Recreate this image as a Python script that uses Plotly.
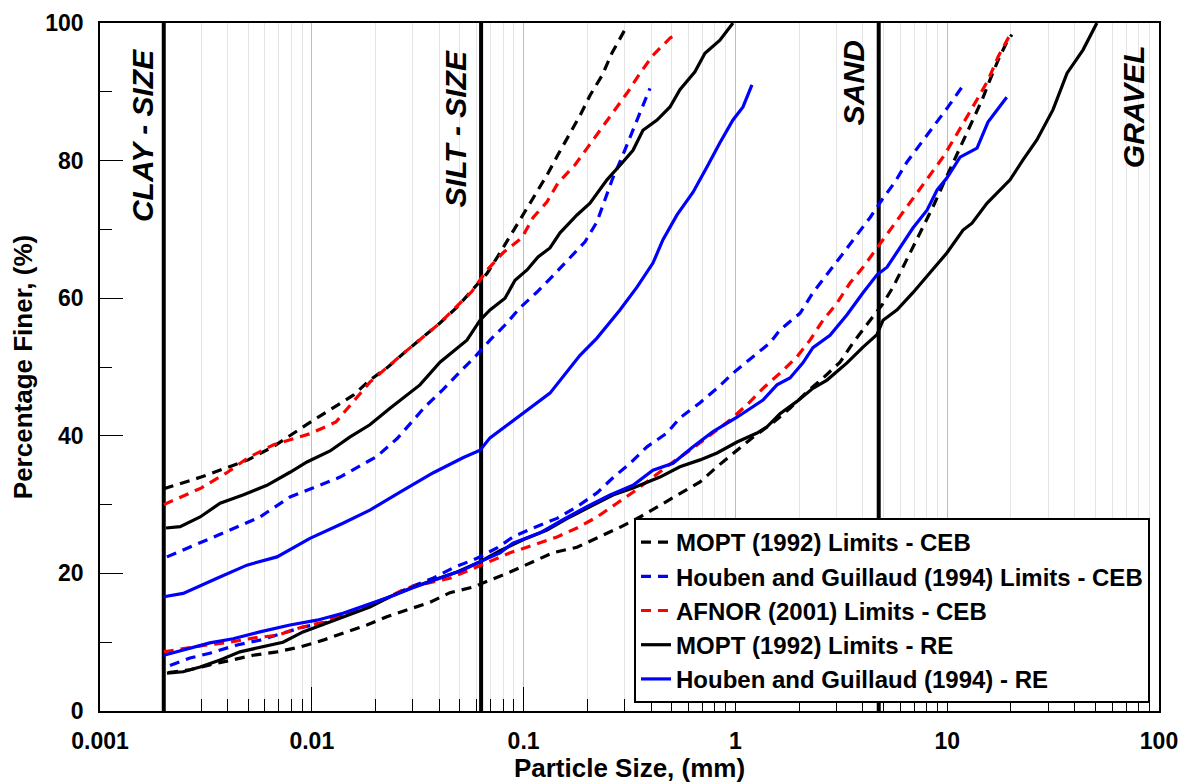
import math
import plotly.graph_objects as go

# ---------------- data ----------------
# MOPT (1992) Limits - CEB  (black dashed)
mopt_ceb_up_x = [0.002, 0.003, 0.005, 0.00656, 0.0101, 0.0126, 0.0157, 0.0188, 0.0229, 0.0276, 0.0335, 0.0403,
                 0.0485, 0.0571, 0.0672, 0.0774, 0.0881, 0.0994, 0.1132, 0.129, 0.145, 0.162, 0.185, 0.206,
                 0.235, 0.261, 0.294, 0.308]
mopt_ceb_up_y = [32.3, 34.0, 36.5, 38.4, 42.2, 44.0, 45.9, 48.1, 50.0, 52.2, 54.4, 56.4,
                 58.7, 61.2, 63.6, 66.6, 69.5, 72.1, 75.0, 77.9, 80.8, 83.4, 86.6, 89.5,
                 92.4, 95.6, 98.5, 99.6]
mopt_ceb_lo_x = [0.0021, 0.00266, 0.0033, 0.00411, 0.00528, 0.00685, 0.0088, 0.0113, 0.01403, 0.0182, 0.0226,
                 0.0282, 0.0361, 0.0449, 0.0577, 0.0717, 0.0863, 0.1108, 0.1376, 0.1787, 0.2295, 0.285,
                 0.3545, 0.4405, 0.547, 0.681, 0.819, 1.018, 1.211, 1.505, 1.81, 2.178, 2.592, 3.12, 3.59,
                 4.23, 4.92, 5.55, 6.18, 6.89, 7.69, 8.57, 9.55, 10.65, 11.88, 13.1, 14.6, 15.9, 17.4,
                 19.1, 20.2]
mopt_ceb_lo_y = [5.6, 6.0, 6.7, 7.3, 8.1, 8.6, 9.3, 10.3, 11.3, 12.5, 13.7,
                 14.7, 15.8, 17.2, 18.0, 19.2, 20.2, 21.7, 23.0, 23.8, 25.3, 26.7,
                 28.2, 29.9, 31.7, 33.3, 35.5, 37.9, 39.8, 41.9, 44.0, 46.4, 48.4, 50.7, 53.5,
                 56.4, 59.0, 61.6, 64.5, 67.4, 70.3, 73.3, 76.5, 79.6, 82.7, 85.6, 88.8, 91.7, 94.6,
                 97.2, 98.3]

# Houben and Guillaud (1994) Limits - CEB  (blue dashed)
hg_ceb_up_x = [0.00207, 0.00297, 0.00411, 0.00569, 0.00789, 0.0101, 0.0136, 0.0203, 0.0253, 0.0342, 0.0416,
               0.0501, 0.059, 0.0694, 0.0817, 0.0962, 0.1157, 0.136, 0.1656, 0.195, 0.222, 0.242, 0.264,
               0.2915, 0.318, 0.3545, 0.3865, 0.395]
hg_ceb_up_y = [22.4, 24.4, 26.3, 28.2, 31.1, 32.4, 34.0, 37.0, 39.6, 44.2, 46.7,
               49.3, 51.5, 53.9, 56.1, 58.6, 60.9, 63.1, 65.8, 68.2, 71.1, 74.3, 77.5,
               80.5, 83.4, 86.9, 90.0, 90.5]
hg_ceb_lo_x = [0.00214, 0.00266, 0.0033, 0.00444, 0.00569, 0.00731, 0.00909, 0.0118, 0.0151, 0.0188, 0.0234,
               0.0291, 0.0373, 0.0464, 0.0603, 0.0749, 0.0891, 0.1108, 0.1438, 0.1787, 0.222, 0.264,
               0.318, 0.3824, 0.475, 0.547, 0.681, 0.819, 0.974, 1.211, 1.456, 1.624, 2.018, 2.323,
               2.707, 3.186, 3.748, 4.32, 4.92, 5.67, 6.46, 7.44, 8.57, 9.98, 11.75, 12.1]
hg_ceb_lo_y = [6.6, 7.7, 8.4, 9.6, 10.3, 11.3, 12.2, 12.9, 14.2, 15.4, 16.6,
               18.0, 19.3, 20.8, 22.2, 23.7, 25.3, 26.6, 28.0, 29.7, 31.7, 33.9,
               36.0, 38.4, 40.4, 42.6, 44.8, 46.9, 49.1, 51.5, 53.5, 55.4, 57.8, 60.8,
               63.4, 66.3, 69.2, 71.7, 74.3, 76.9, 79.8, 82.3, 84.9, 87.6, 90.7, 91.0]

# AFNOR (2001) Limits - CEB  (red dashed)
afnor_up_x = [0.002, 0.003, 0.004, 0.005, 0.0066, 0.0098, 0.013, 0.0188, 0.0276, 0.0403, 0.0571, 0.0672,
              0.080, 0.0983, 0.1107, 0.129, 0.145, 0.175, 0.2015, 0.2345, 0.270, 0.311, 0.3545, 0.408,
              0.491, 0.536]
afnor_up_y = [30.0, 32.4, 34.7, 36.8, 38.7, 40.3, 42.0, 47.8, 52.2, 56.4, 61.0, 64.1,
              66.6, 68.8, 71.7, 74.0, 76.7, 79.4, 82.0, 84.9, 87.4, 90.0, 92.7, 95.3,
              97.8, 98.6]
afnor_lo_x = [0.002, 0.00247, 0.0032, 0.00411, 0.00528, 0.00685, 0.0088, 0.0113, 0.01466, 0.0188, 0.0226,
              0.0282, 0.035, 0.0449, 0.0558, 0.0694, 0.0863, 0.1108, 0.1438, 0.1787, 0.222, 0.276,
              0.3285, 0.408, 0.5075, 0.631, 0.784, 0.943, 1.134, 1.35, 1.624, 1.953, 2.25, 2.592,
              3.018, 3.475, 4.005, 4.66, 5.37, 6.18, 7.2, 8.29, 9.55, 10.89, 12.4, 13.97, 15.6,
              17.4, 19.4, 20.2]
afnor_lo_y = [8.6, 9.1, 9.6, 10.0, 10.6, 11.0, 12.1, 12.9, 14.2, 15.4, 16.4,
              17.9, 18.6, 19.3, 20.5, 21.7, 23.0, 24.1, 25.3, 26.6, 28.2, 30.2,
              31.8, 34.0, 36.2, 38.2, 40.4, 42.3, 44.5, 46.9, 49.1, 51.5, 53.9, 56.8,
              59.3, 62.2, 64.5, 67.3, 69.9, 72.5, 75.3, 77.9, 80.5, 83.4, 86.3, 89.1, 91.7,
              95.1, 97.8, 98.5]

# MOPT (1992) Limits - RE  (black solid)
mopt_re_up_x = [0.00205, 0.00239, 0.00297, 0.00369, 0.00473, 0.00614, 0.00789, 0.00949, 0.0122, 0.0151,
                0.0188, 0.0234, 0.0324, 0.0403, 0.054, 0.0623, 0.0694, 0.0817, 0.0911, 0.1038, 0.117,
                0.1332, 0.1486, 0.1787, 0.2058, 0.2475, 0.2944, 0.3285, 0.366, 0.4265, 0.491, 0.547,
                0.644, 0.718, 0.845, 0.974]
mopt_re_up_y = [26.6, 26.8, 28.2, 30.2, 31.4, 32.8, 34.7, 36.2, 37.8, 39.8,
                41.6, 44.0, 47.4, 50.7, 53.9, 56.8, 58.3, 60.0, 62.6, 64.1, 66.0,
                67.3, 69.5, 72.1, 73.8, 77.2, 79.8, 81.5, 84.4, 85.9, 87.8, 90.3,
                92.9, 95.6, 97.5, 100.0]
mopt_re_lo_x = [0.00207, 0.00247, 0.00297, 0.00369, 0.00458, 0.00588, 0.00731, 0.00909, 0.0118, 0.0151,
                0.0188, 0.0234, 0.03, 0.0373, 0.0485, 0.0623, 0.0774, 0.0994, 0.129, 0.1656, 0.2126,
                0.264, 0.3285, 0.4405, 0.547, 0.681, 0.819, 1.018, 1.265, 1.41, 1.624, 1.953, 2.323,
                2.707, 3.365, 4.005, 4.66, 4.98, 5.8, 6.89, 8.29, 9.98, 11.88, 13.1, 15.4, 19.8, 22.8,
                26.5, 31.6, 36.8, 43.8, 50.9]
mopt_re_lo_y = [5.5, 5.7, 6.4, 7.4, 8.6, 9.3, 10.0, 11.5, 12.8, 14.0,
                15.1, 16.6, 18.0, 19.0, 20.2, 21.7, 23.3, 24.9, 26.3, 28.2, 29.9,
                31.4, 32.4, 34.0, 35.5, 36.5, 37.5, 39.1, 40.4, 41.3, 43.2, 45.0, 46.9,
                48.1, 50.6, 52.9, 54.7, 56.8, 58.3, 60.8, 63.7, 66.6, 69.9, 70.9, 73.8, 77.2, 80.1,
                83.0, 87.4, 92.7, 96.1, 100.0]

# Houben and Guillaud (1994) - RE  (blue solid)
hg_re_up_x = [0.002, 0.00247, 0.00357, 0.00494, 0.00685, 0.0098, 0.01403, 0.0188, 0.0261, 0.0373, 0.0517,
              0.0623, 0.0694, 0.0931, 0.1332, 0.1846, 0.222, 0.285, 0.343, 0.408, 0.455, 0.53, 0.631,
              0.735, 0.845, 0.974, 1.086, 1.197]
hg_re_up_y = [16.6, 17.1, 19.3, 21.2, 22.4, 25.1, 27.3, 29.2, 31.8, 34.6, 36.8,
              37.9, 39.7, 42.6, 46.2, 51.7, 54.2, 58.3, 61.6, 65.1, 68.5, 72.1, 75.4,
              79.1, 82.6, 85.9, 87.8, 91.0]
hg_re_lo_x = [0.002, 0.00247, 0.0033, 0.00425, 0.00569, 0.00789, 0.01058, 0.01403, 0.0182, 0.0234, 0.03,
              0.0403, 0.0517, 0.0643, 0.0774, 0.0891, 0.1195, 0.1535, 0.199, 0.256, 0.3285, 0.408,
              0.5075, 0.631, 0.784, 1.018, 1.35, 1.572, 1.81, 2.084, 2.323, 2.797, 3.365, 4.005,
              4.66, 5.2, 5.98, 6.89, 8.03, 8.95, 9.98, 11.5, 13.83, 15.58, 19.1]
hg_re_lo_y = [8.1, 8.9, 9.9, 10.5, 11.5, 12.5, 13.2, 14.2, 15.4, 16.6, 17.9,
              19.3, 20.5, 21.9, 23.0, 24.4, 25.9, 27.8, 29.7, 31.4, 32.8, 35.0,
              36.0, 38.4, 40.6, 42.7, 45.2, 47.4, 48.4, 50.6, 52.8, 54.6, 57.6, 60.8,
              63.4, 64.5, 67.4, 70.2, 72.8, 75.7, 77.5, 80.5, 81.8, 85.6, 89.2]

# size-class boundaries (mm) and labels
boundaries = [0.002, 0.063, 4.75]
zone_labels = ["CLAY - SIZE", "SILT - SIZE", "SAND", "GRAVEL"]
zone_label_x = [0.0016, 0.0474, 3.59, 75.3]   # mm
zone_label_y = [83.6, 84.7, 91.4, 87.9]       # %

x_tickvals = [0.001, 0.01, 0.1, 1, 10, 100]
x_ticktext = ["0.001", "0.01", "0.1", "1", "10", "100"]
y_tickvals = [0, 20, 40, 60, 80, 100]

# ---------------- figure ----------------
FONT = "Liberation Sans, Arial, sans-serif"
DASH = "10px,7px"
LW = 3.2

series = [
    ("MOPT (1992) Limits - CEB", "black", DASH,
     [(mopt_ceb_up_x, mopt_ceb_up_y), (mopt_ceb_lo_x, mopt_ceb_lo_y)]),
    ("Houben and Guillaud (1994) Limits - CEB", "#0000ff", DASH,
     [(hg_ceb_up_x, hg_ceb_up_y), (hg_ceb_lo_x, hg_ceb_lo_y)]),
    ("AFNOR (2001) Limits - CEB", "#ff0000", DASH,
     [(afnor_up_x, afnor_up_y), (afnor_lo_x, afnor_lo_y)]),
    ("MOPT (1992) Limits - RE", "black", "solid",
     [(mopt_re_up_x, mopt_re_up_y), (mopt_re_lo_x, mopt_re_lo_y)]),
    ("Houben and Guillaud (1994) - RE", "#0000ff", "solid",
     [(hg_re_up_x, hg_re_up_y), (hg_re_lo_x, hg_re_lo_y)]),
]

fig = go.Figure()

for b in boundaries:
    fig.add_trace(go.Scatter(x=[b, b], y=[0, 100], mode="lines",
                             line=dict(color="black", width=4),
                             showlegend=False, hoverinfo="skip"))

for name, color, dash, curves in series:
    for i, (xs, ys) in enumerate(curves):
        assert len(xs) == len(ys), name
        fig.add_trace(go.Scatter(
            x=xs, y=ys, mode="lines", name=name, legendgroup=name,
            showlegend=(i == 0),
            line=dict(color=color, width=LW, dash=dash),
        ))

for txt, xv, yv in zip(zone_labels, zone_label_x, zone_label_y):
    fig.add_annotation(x=math.log10(xv), y=yv, xref="x", yref="y", text=txt, showarrow=False,
                       textangle=-90,
                       font=dict(family=FONT, size=30, color="black",
                                 weight="bold", style="italic"))

minor_x = [m * 10 ** e for e in range(-3, 2) for m in range(2, 10)]

# the page body adds an 8px offset; size the figure to fit the window
fig.update_layout(
    width=1189, height=775,
    margin=dict(l=92, r=38, t=15, b=72),
    paper_bgcolor="white", plot_bgcolor="white",
    font=dict(family=FONT, color="black"),
    showlegend=True,
    legend=dict(
        x=0.9915, y=0.0116, xanchor="right", yanchor="bottom",
        bgcolor="white", bordercolor="black", borderwidth=2,
        font=dict(family=FONT, size=24, color="black", weight="bold"),
        tracegroupgap=0, itemwidth=30,
    ),
    xaxis=dict(
        type="log", range=[-3, 2], automargin=False,
        tickmode="array", tickvals=x_tickvals, ticktext=x_ticktext,
        ticks="inside", ticklen=24, tickwidth=1.3, tickcolor="black",
        showgrid=True, gridcolor="#bdbdbd", gridwidth=1,
        minor=dict(tickmode="array", tickvals=minor_x, ticks="inside", ticklen=12,
                   tickwidth=1, tickcolor="black", showgrid=True,
                   gridcolor="#e4e4e4", gridwidth=1),
        showline=True, linecolor="black", linewidth=1.5, mirror=True,
        tickfont=dict(family=FONT, size=23, color="black", weight="bold"),
        ticklabelstandoff=9,
        title=dict(text="Particle Size, (mm)", standoff=13,
                   font=dict(family=FONT, size=26, color="black", weight="bold")),
        zeroline=False,
    ),
    yaxis=dict(
        range=[0, 100], automargin=False,
        tickmode="array", tickvals=y_tickvals,
        ticks="inside", ticklen=23, tickwidth=1.3, tickcolor="black",
        showgrid=False,
        minor=dict(dtick=10, ticks="inside", ticklen=12, tickwidth=1,
                   tickcolor="black", showgrid=False),
        showline=True, linecolor="black", linewidth=1.5, mirror=True,
        tickfont=dict(family=FONT, size=23, color="black", weight="bold"),
        ticklabelstandoff=10,
        title=dict(text="Percentage Finer, (%)", standoff=8,
                   font=dict(family=FONT, size=26, color="black", weight="bold")),
        zeroline=False,
    ),
)

fig.write_html("out.html")
